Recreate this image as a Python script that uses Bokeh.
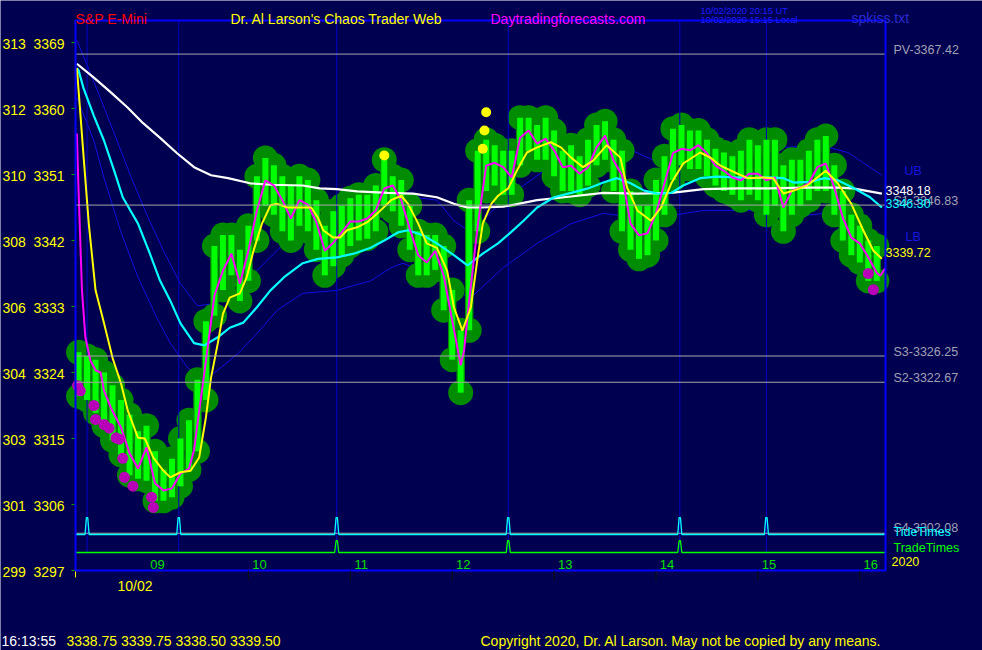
from bokeh.plotting import figure
from bokeh.models import Range1d, Label
from bokeh.core.properties import value
from bokeh.embed import file_html
from bokeh.resources import INLINE

FONT = "Liberation Sans"
BG = "#000050"

# ---------------- data (time = minutes after midnight, chart clock, 10/02/2020) -------------
bar_time = list(range(500, 971, 5))          # 5-minute bars 08:20 .. 16:10
bar_high = [3326.75, 3326.25, 3325.75, 3324.00, 3322.25, 3320.25, 3318.25, 3316.00, 3316.75, 3313.25,
            3310.75, 3312.25, 3315.00, 3317.50, 3323.00, 3331.00, 3341.25, 3342.75, 3342.75, 3340.75,
            3344.00, 3350.75, 3353.25, 3352.25, 3350.75, 3349.50, 3350.75, 3350.25, 3347.50, 3344.00,
            3346.00, 3346.75, 3347.75, 3348.25, 3348.25, 3349.50, 3353.00, 3350.75, 3350.25, 3346.75,
            3343.25, 3342.75, 3342.75, 3341.25, 3335.25, 3329.75, 3347.50, 3354.25, 3355.75, 3355.00,
            3354.25, 3354.25, 3358.75, 3358.75, 3357.75, 3358.75, 3357.00, 3354.25, 3355.00, 3353.50,
            3355.75, 3357.75, 3358.25, 3355.75, 3354.25, 3348.75, 3346.75, 3346.75, 3350.25, 3353.50,
            3357.25, 3357.75, 3357.00, 3357.00, 3355.75, 3354.50, 3354.00, 3353.50, 3354.25, 3355.75,
            3355.00, 3355.75, 3355.75, 3352.25, 3353.00, 3353.00, 3354.25, 3355.75, 3356.25, 3352.25,
            3348.75, 3345.50, 3344.00, 3342.00, 3341.25]
bar_low = [3320.75, 3320.25, 3318.50, 3316.75, 3314.75, 3312.75, 3310.00, 3309.50, 3309.25, 3306.50,
           3306.50, 3307.00, 3308.50, 3310.75, 3313.25, 3320.25, 3331.75, 3335.25, 3337.25, 3333.75,
           3336.50, 3342.00, 3346.75, 3345.50, 3343.25, 3342.00, 3344.00, 3343.25, 3340.75, 3337.25,
           3338.50, 3340.00, 3341.25, 3342.00, 3342.25, 3343.25, 3346.75, 3346.00, 3344.00, 3340.75,
           3337.25, 3337.25, 3338.00, 3332.50, 3325.75, 3321.25, 3329.75, 3343.25, 3348.75, 3349.50,
           3348.25, 3348.25, 3352.25, 3354.25, 3353.00, 3353.00, 3350.75, 3348.75, 3348.75, 3348.25,
           3349.50, 3352.25, 3353.00, 3348.75, 3343.25, 3340.75, 3339.50, 3340.00, 3342.00, 3345.50,
           3350.25, 3352.25, 3351.75, 3351.75, 3350.75, 3349.50, 3348.75, 3348.25, 3347.50, 3348.25,
           3347.50, 3345.50, 3346.75, 3343.25, 3345.50, 3346.75, 3347.50, 3348.75, 3348.75, 3345.50,
           3342.00, 3340.00, 3339.00, 3336.50, 3336.50]

# fast average (magenta)
fast_t = [499, 500, 502, 504, 507, 510, 513, 515, 519,
          525, 530, 535, 540, 545, 550, 555, 560, 565, 568, 570, 575, 580, 585, 590, 595,
          600, 605, 610, 615, 620, 625, 630, 635, 640, 645, 650, 655, 660, 665, 670, 675,
          680, 685, 690, 695, 700, 705, 710, 715, 720, 725, 727, 730, 735, 740, 745, 750, 755,
          760, 765, 770, 775, 780, 785, 790, 795, 800, 805, 810, 815, 820, 825, 830, 835,
          840, 845, 850, 855, 860, 865, 870, 875, 880, 885, 890, 895, 900, 905, 910, 915,
          920, 925, 930, 935, 940, 945, 950, 955, 960, 965, 970, 972, 975]
fast_v = [3356.6, 3348.8, 3335.2, 3328.8, 3325.6, 3324.3, 3324.0, 3321.5, 3319.2,
          3316.5, 3313.0, 3310.9, 3313.8, 3308.9, 3307.9, 3308.2, 3310.2, 3310.9, 3313.4, 3317.0, 3325.6, 3334.5, 3337.9, 3340.2, 3336.1,
          3340.6, 3346.1, 3350.2, 3349.5, 3347.5, 3345.0, 3347.5, 3346.9, 3344.5, 3340.6, 3341.7, 3343.1, 3344.6, 3344.6, 3345.0, 3346.1,
          3349.1, 3349.5, 3347.5, 3343.6, 3340.0, 3339.0, 3340.6, 3337.2, 3331.1, 3325.0, 3327.0, 3333.8, 3344.0, 3352.2, 3352.6, 3352.0, 3350.6,
          3356.0, 3357.0, 3355.2, 3355.9, 3354.3, 3352.0, 3352.2, 3351.1, 3352.0, 3354.7, 3356.3, 3352.9, 3350.9, 3344.3, 3342.7, 3343.0,
          3345.7, 3349.8, 3353.9, 3354.5, 3354.3, 3355.0, 3353.9, 3352.2, 3351.5, 3350.6, 3350.2, 3351.1, 3351.1, 3350.2, 3350.6, 3346.5,
          3348.8, 3349.2, 3349.8, 3352.0, 3352.5, 3349.2, 3345.1, 3342.4, 3341.6, 3339.7, 3337.6, 3337.2, 3338.2]

# medium average (yellow)
mid_t = [499, 500, 503, 506, 510, 515, 520, 525, 529, 535, 539, 544, 550, 554, 560, 566, 571, 575, 578, 582,
         585, 589, 595, 599, 603, 608, 613, 617, 623, 629, 637, 641, 644, 650, 654, 658, 664, 670, 676, 684,
         690, 694, 700, 705, 711, 717, 721, 726, 731, 735, 738, 743, 747, 753, 758, 764, 770, 778, 784, 790,
         797, 803, 811, 819, 823, 829, 837, 843, 849, 856, 866, 872, 878, 888, 894, 903, 909, 915, 921, 929,
         935, 940, 947, 955, 962, 968, 973]
mid_v = [3365.5, 3362.5, 3353.3, 3344.3, 3335.2, 3330.7, 3326.0, 3322.5, 3318.8, 3315.1, 3315.0, 3312.4, 3310.6, 3309.7, 3310.4, 3310.6, 3312.4, 3317.9, 3323.3, 3328.0,
         3332.0, 3334.2, 3334.8, 3337.0, 3340.6, 3344.3, 3346.8, 3347.0, 3346.5, 3346.5, 3346.5, 3345.1, 3343.4, 3342.4, 3342.4, 3343.4, 3343.8, 3344.5, 3345.7, 3347.5,
         3348.1, 3347.0, 3344.3, 3341.6, 3341.0, 3337.9, 3332.9, 3329.7, 3332.9, 3339.7, 3344.3, 3347.0, 3348.1, 3349.1, 3351.5, 3354.0, 3354.7, 3355.4, 3354.7, 3353.3,
         3352.0, 3352.9, 3355.0, 3353.3, 3349.2, 3346.1, 3344.7, 3346.5, 3349.8, 3352.5, 3354.0, 3353.3, 3352.2, 3351.1, 3350.5, 3350.6, 3350.5, 3348.4, 3348.8, 3349.5,
         3350.6, 3351.5, 3349.8, 3347.0, 3343.4, 3340.6, 3339.5]

# slow average (cyan)
slow_t = [499, 500, 503, 509, 515, 521, 526, 535, 542, 548, 554, 560, 568, 574, 582, 589, 597, 605, 613, 621,
          632, 641, 652, 662, 672, 680, 688, 694, 703, 711, 721, 729, 738, 747, 754, 762, 770, 780, 790, 800,
          809, 817, 825, 833, 841, 849, 856, 866, 876, 886, 896, 906, 915, 921, 931, 939, 947, 956, 966, 973]
slow_v = [3365.5, 3365.2, 3362.7, 3359.0, 3355.6, 3351.5, 3347.9, 3344.3, 3340.2, 3336.5, 3333.8, 3330.7, 3328.0, 3327.7, 3328.8, 3330.1, 3330.8, 3332.9, 3335.2, 3337.0,
          3338.9, 3339.5, 3339.7, 3340.2, 3341.0, 3342.0, 3343.1, 3343.4, 3342.7, 3341.6, 3340.0, 3338.6, 3340.2, 3341.6, 3343.0, 3344.7, 3346.5, 3347.9, 3348.5, 3349.1,
          3349.9, 3350.5, 3349.8, 3348.8, 3348.4, 3348.5, 3349.5, 3350.5, 3350.7, 3350.6, 3350.5, 3350.6, 3350.5, 3349.9, 3350.0, 3350.5, 3350.2, 3349.2, 3347.9, 3346.5]

# session average (white)
sess_t = [499, 509, 519, 529, 538, 548, 558, 568, 578, 588, 601, 613, 632, 642, 652, 664, 682, 697, 711, 721,
          729, 737, 750, 770, 790, 809, 829, 849, 868, 888, 907, 927, 947, 956, 973]
sess_v = [3366.1, 3364.2, 3362.2, 3360.1, 3358.0, 3356.0, 3353.9, 3352.0, 3350.9, 3350.5, 3349.8, 3349.6, 3349.5, 3349.1, 3349.0, 3348.7, 3348.5, 3348.4, 3347.9, 3347.0,
          3346.5, 3346.5, 3346.6, 3347.5, 3348.0, 3348.5, 3348.4, 3348.5, 3349.0, 3349.1, 3349.1, 3349.2, 3349.2, 3349.1, 3348.4]

# bands (dark blue)
ub_t = [499, 511, 521, 531, 541, 550, 560, 570, 581, 592, 605, 621, 637, 654, 672, 690, 697, 711, 721, 731,
        750, 780, 819, 839, 859, 878, 897, 917, 937, 953, 973]
ub_v = [3369.3, 3362.5, 3356.6, 3350.6, 3345.1, 3340.6, 3336.1, 3333.1, 3333.4, 3334.9, 3337.9, 3341.6, 3343.6, 3344.7, 3345.8, 3347.5, 3347.9, 3347.5, 3344.7, 3343.1,
        3347.5, 3352.5, 3355.0, 3352.9, 3354.3, 3355.4, 3355.2, 3354.7, 3355.0, 3354.0, 3350.9]
lb_t = [499, 509, 515, 525, 535, 546, 554, 564, 574, 584, 594, 605, 617, 632, 652, 672, 684, 691, 711, 721,
        731, 750, 770, 790, 809, 829, 849, 868, 888, 907, 927, 943, 956, 973]
lb_v = [3361.5, 3355.6, 3350.5, 3343.1, 3337.0, 3331.5, 3328.0, 3324.7, 3322.9, 3324.7, 3326.6, 3329.3, 3332.5, 3334.8, 3335.2, 3336.5, 3338.3, 3338.9, 3337.0, 3335.2,
        3334.2, 3338.3, 3341.6, 3344.3, 3345.7, 3345.1, 3345.4, 3346.1, 3346.1, 3346.1, 3345.4, 3345.8, 3344.3, 3341.6]

# kiss dots
low_dot_t = [499.4, 501, 509, 510, 515, 518, 522, 524, 526, 527, 532, 543, 544, 965, 968]
low_dot_v = [3322.2, 3321.5, 3319.5, 3317.6, 3316.9, 3316.4, 3315.1, 3314.9, 3312.3, 3309.7, 3308.5, 3307.0, 3305.6, 3337.5, 3335.3]
high_dot_t = [680, 738, 739, 740]
high_dot_v = [3353.6, 3354.5, 3357.0, 3359.5]

# price levels
level_names = ["PV", "S1", "S3", "S2", "S4"]
level_values = [3367.42, 3346.83, 3326.25, 3322.67, 3302.08]

# timing events
tide_times = [505, 559, 652, 753, 854, 905]
trade_times = [652, 753, 854]

# axis ticks
price_ticks = [3297, 3306, 3315, 3324, 3333, 3342, 3351, 3360, 3369]
etf_ticks = [299, 301, 303, 304, 306, 308, 310, 312, 313]
hour_ticks = [9, 10, 11, 12, 13, 14, 15, 16]
hour_labels = ["09", "10", "11", "12", "13", "14", "15", "16"]

# ---------------- geometry: chart box inside the page -------------
W, H = 982, 650
FX0, FX1, FY0, FY1 = 75, 885, 20, 570       # chart box, in page pixels
T0, T1 = 498.19, 975.13                      # minutes at the box edges
P0, P1 = 3297.0, 3372.0                      # prices at the box edges
PPM = (FX1 - FX0) / (T1 - T0)
PPP = (FY1 - FY0) / (P1 - P0)


def dx(px):
    return T0 + (px - FX0) / PPM


def dy(py):
    return P0 + (FY1 - py) / PPP


p = figure(width=W, height=H, x_range=Range1d(dx(0), dx(W)), y_range=Range1d(dy(H), dy(0)),
           output_backend="svg", toolbar_location=None,
           x_axis_location=None, y_axis_location=None, min_border=0,
           background_fill_color=BG, border_fill_color=BG, outline_line_color=None)
p.xgrid.visible = False
p.ygrid.visible = False

# bands under the price cloud
p.line(ub_t, ub_v, line_color="#1010E0", line_width=1)
p.line(lb_t, lb_v, line_color="#1010E0", line_width=1)

# price cloud
BLOB = "#008C00"
p.vbar(x=bar_time, top=bar_high, bottom=bar_low, width=5, fill_color=BLOB, line_color=None)
p.scatter(bar_time, bar_high, size=25, fill_color=BLOB, line_color=None)
p.scatter(bar_time, bar_low, size=25, fill_color=BLOB, line_color=None)

# timing verticals
TRADE_BASE = dy(552)
TIDE_BASE = dy(534)
n = len(tide_times)
p.segment(x0=tide_times, y0=[TRADE_BASE] * n, x1=tide_times, y1=[P1] * n,
          line_color="#0000C8", line_width=1)

# price bars
p.vbar(x=bar_time, top=bar_high, bottom=bar_low, width=3.5, fill_color="#00FF00", line_color=None)

# averages
p.line(sess_t, sess_v, line_color="#FFFFFF", line_width=2.2)
p.line(slow_t, slow_v, line_color="#00FFFF", line_width=2.2)
p.line(fast_t, fast_v, line_color="#FF00FF", line_width=2)
p.line(mid_t, mid_v, line_color="#FFFF00", line_width=2)

# dots
p.scatter(low_dot_t, low_dot_v, size=11, fill_color="#B800B8", line_color=None)
p.scatter(high_dot_t, high_dot_v, size=10, fill_color="#FFFF00", line_color=None)

# levels
m = len(level_values)
p.segment(x0=[T0] * m, y0=level_values, x1=[T1] * m, y1=level_values, line_color="#A8A8A8", line_width=1)


def spike_path(times, base, height, t0, t1):
    xs, ys = [t0], [base]
    for t in times:
        xs += [t - 1.2, t - 0.4, t + 0.4, t + 1.2]
        ys += [base, base + height, base + height, base]
    xs.append(t1)
    ys.append(base)
    return xs, ys


tx, ty = spike_path(tide_times, TIDE_BASE, 2.3, T0, T1)
p.line(tx, ty, line_color="#00FFFF", line_width=1.3)
gx, gy = spike_path(trade_times, TRADE_BASE, 1.6, T0, T1)
p.line(gx, gy, line_color="#00FF00", line_width=1.3)

# chart box
p.quad(left=[T0], right=[T1], bottom=[P0], top=[P1], fill_color=None, line_color="#0000FF", line_width=2)

# price axis (left): ticks and two-scale labels
k = len(price_ticks)
p.segment(x0=[dx(71)] * k, y0=price_ticks, x1=[dx(74)] * k, y1=price_ticks, line_color="#00A000", line_width=1)
p.text(x=[dx(2)] * k, y=price_ticks, text=[str(e) for e in etf_ticks], text_color="#FFFF00",
       text_font=value(FONT), text_font_size="14px", text_align="left", text_baseline="alphabetic",
       y_offset=1)
p.text(x=[dx(33)] * k, y=price_ticks, text=[str(t) for t in price_ticks], text_color="#FFFF00",
       text_font=value(FONT), text_font_size="14px", text_align="left", text_baseline="alphabetic",
       y_offset=1)

# time axis: hour ticks below the box, hour labels inside the box
hx = [h * 60 for h in hour_ticks[1:]]
p.segment(x0=hx, y0=[P0] * len(hx), x1=hx, y1=[dy(580)] * len(hx), line_color="#101010", line_width=1)
p.segment(x0=[T0], y0=[dy(571)], x1=[T0], y1=[dy(577)], line_color="#FFFF00", line_width=1)
p.text(x=[h * 60 + 6.5 for h in hour_ticks], y=[dy(563.5)] * len(hour_ticks), text=hour_labels,
       text_color="#00E000", text_font=value(FONT), text_font_size="13px",
       text_align="center", text_baseline="middle")


# ---------------- texts -------------
def put(text, px, py, color, size="14px", baseline="middle", align="left"):
    p.add_layout(Label(x=dx(px), y=dy(py), text=text, text_color=color, text_font=FONT,
                       text_font_size=size, text_baseline=baseline, text_align=align))


put("S&P E-Mini", 75, 18, "#FF0000", baseline="alphabetic")
put("Dr. Al Larson's Chaos Trader Web", 230, 18, "#FFFF00", baseline="alphabetic")
put("Daytradingforecasts.com", 490, 18, "#FF00FF", baseline="alphabetic")
put("10/02/2020 20:15 UT", 700, 10.5, "#1E1EFF", size="9.3px", baseline="alphabetic")
put("10/02/2020 15:15 Local", 700, 19, "#1E1EFF", size="9.3px", baseline="alphabetic")
put("spkiss.txt", 851, 17, "#2A2AD0", baseline="alphabetic")

RS = "12.5px"
GRAY = "#A0A0B4"
put(f"{level_names[0]}-{level_values[0]:.2f}", 893, 49, GRAY, RS)
put("UB", 904, 170, "#1515E0", RS)
put(f"{level_names[1]}-{level_values[1]:.2f}", 893, 200, GRAY, RS)
put("3348.18", 885, 190, "#FFFFFF", RS)
put("3346.30", 885, 203, "#00FFFF", RS)
put("LB", 905, 236, "#1515E0", RS)
put("3339.72", 885, 252, "#FFFF00", RS)
put(f"{level_names[2]}-{level_values[2]:.2f}", 893, 351, GRAY, RS)
put(f"{level_names[3]}-{level_values[3]:.2f}", 893, 377, GRAY, RS)
put(f"{level_names[4]}-{level_values[4]:.2f}", 893, 527, GRAY, RS)
put("TideTimes", 893, 531, "#00FFFF", RS)
put("TradeTimes", 893, 547, "#00FF00", RS)
put("2020", 891, 561, "#FFFF00", RS)

put("10/02", 117, 585, "#FFFF00", baseline="alphabetic")
put("16:13:55", 1, 640, "#FFFFFF", baseline="alphabetic")
put("3338.75 3339.75 3338.50 3339.50", 66, 640, "#FFFF00", baseline="alphabetic")
put("Copyright 2020, Dr. Al Larson. May not be copied by any means.", 480, 640, "#FFFF00",
    baseline="alphabetic")

open("out.html", "w").write(file_html(p, INLINE))
